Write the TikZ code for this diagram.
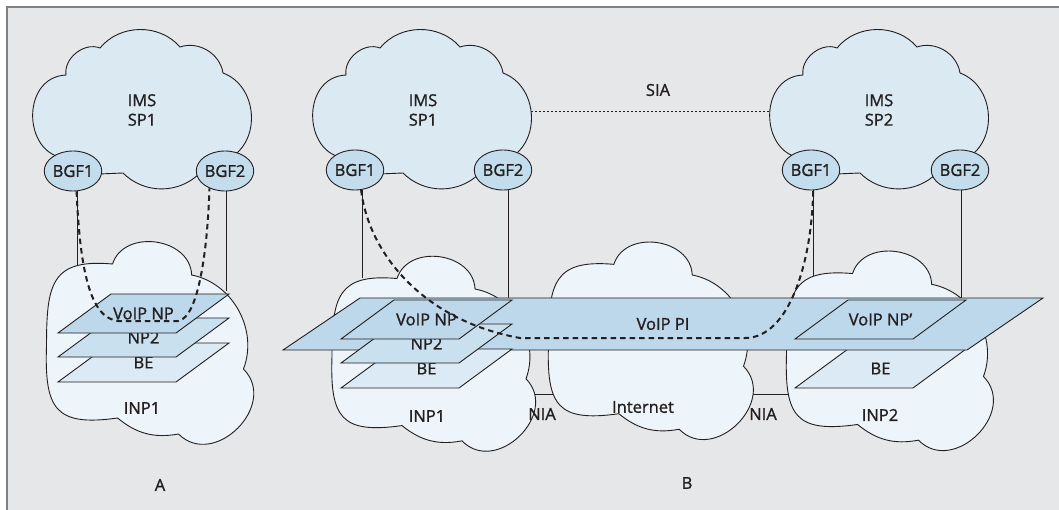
\documentclass[tikz,border=0pt]{standalone}
\usepackage{fontspec}
\setmainfont{Open Sans}[FakeBold=1.2]
\usetikzlibrary{shapes.geometric}
\definecolor{bgc}{RGB}{230,231,232}
\definecolor{framec}{RGB}{128,128,128}
\definecolor{imsc}{RGB}{219,233,243}
\definecolor{inpc}{RGB}{237,244,250}
\definecolor{bgfc}{RGB}{196,221,237}
\definecolor{voipc}{RGB}{188,216,234}
\definecolor{npc}{RGB}{201,224,239}
\definecolor{bec}{RGB}{219,234,244}
\definecolor{linec}{RGB}{35,31,32}
\tikzset{
  outl/.style={draw=linec, line width=0.9pt},
  imsshape/.style={outl, fill=imsc},
  inpshape/.style={outl, fill=inpc},
  bgf/.style={ellipse, outl, fill=bgfc, minimum width=51pt, minimum height=40pt, inner sep=0pt, text=linec, font=\fontsize{16.5}{19.5}\selectfont},
  lbl/.style={text=linec, font=\fontsize{16.5}{19.5}\selectfont, inner sep=0pt, align=center},
  conn/.style={draw=linec, line width=0.8pt},
  sess/.style={draw=linec, line width=2pt, dash pattern=on 5.5pt off 4pt},
  sialine/.style={draw=linec, line width=0.8pt, dash pattern=on 2pt off 2pt}
}
\newcommand{\IMScloud}[1]{\begin{scope}[shift={#1}]
  \path[imsshape] (-72,48) to[bend left=90,looseness=1.45] (-76,-35) to[bend left=60] (-42,-62)
    to[bend left=50] (38,-63) to[bend left=50] (81,-37) to[bend left=65,looseness=1.1] (88,48)
    -- (58,63) to[bend left=45] (-19,63) -- (-43,64) -- cycle;
\end{scope}}
\newcommand{\INPcloud}[3]{\begin{scope}[shift={#1},x=#2pt,y=-#3pt]
  \path[inpshape] (-0.98,0.03) to[out=90,in=175,looseness=1.5] (-0.33,-0.78)
    to[bend left=80,looseness=1.2] (0.45,-0.67) to[bend left=50] (0.96,0.27)
    to[bend left=90,looseness=1.4] (0.32,0.92) to[bend left=25] (-0.28,0.76)
    to[out=188,in=-92,looseness=1.6] (-0.98,0.03) -- cycle;
\end{scope}}
\newcommand{\plane}[5]{%
  \path[outl, fill=#3] (#1,#2) -- ++(118,0) -- ++(53,-39) -- ++(-118,0) -- cycle;
  \node[lbl] (#4) at ({#1+85.5},{#2-19.5}) {#5};}
\begin{document}
\begin{tikzpicture}[x=1pt,y=-1pt]
\useasboundingbox (0,0) rectangle (1059,510);
\fill[bgc] (7,7) rectangle (1059,510);
\draw[framec, line width=1.6pt] (7,510) -- (7,7) -- (1059,7);

% SIA
\coordinate (siaL) at (515,111);
\coordinate (siaR) at (790,111);
\draw[sialine] (siaL) -- (siaR);
\node[lbl] (sia) at (658,90) {SIA};

% IMS clouds
\IMScloud{(142,110)}
\IMScloud{(422,110)}
\IMScloud{(879,110)}
\node[lbl] (imsA) at (142,110) {IMS\\SP1};
\node[lbl] (imsB) at (423,110) {IMS\\SP1};
\node[lbl] (imsC) at (879,110) {IMS\\SP2};

\node[bgf] (bgfA1) at (73,171) {BGF1};
\node[bgf] (bgfA2) at (225,171) {BGF2};
\node[bgf] (bgfB1) at (355,170) {BGF1};
\node[bgf] (bgfB2) at (503,170) {BGF2};
\node[bgf] (bgfC1) at (811,170) {BGF1};
\node[bgf] (bgfC2) at (960,170) {BGF2};

% vertical links
\coordinate (vA1) at (77,270);
\coordinate (vA2) at (226,291);
\coordinate (vB1) at (362,278);
\coordinate (vB2) at (508,299);
\coordinate (vC1) at (813,279);
\coordinate (vC2) at (961,299);
\draw[conn] (bgfA1.south -| vA1) -- (vA1);
\draw[conn] (bgfA2.south -| vA2) -- (vA2);
\draw[conn] (bgfB1.south -| vB1) -- (vB1);
\draw[conn] (bgfB2.south -| vB2) -- (vB2);
\draw[conn] (bgfC1.south -| vC1) -- (vC1);
\draw[conn] (bgfC2.south -| vC2) -- (vC2);

% NIA links
\coordinate (n1a) at (515,394);
\coordinate (n1b) at (562,394);
\coordinate (n2a) at (732,394);
\coordinate (n2b) at (800,394);
\draw[conn] (n1a) -- (n1b);
\draw[conn] (n2a) -- (n2b);

% INP clouds
\INPcloud{(146,342)}{101.5}{100}
\INPcloud{(430,353)}{100}{95.5}
\INPcloud{(647,340)}{100.5}{97}
\INPcloud{(886,350)}{101.5}{98}
\node[lbl] (inpA) at (142,408) {INP1};
\node[lbl] (inpB) at (427,416) {INP1};
\node[lbl] (inet) at (643,407) {Internet};
\node[lbl] (inpC) at (880,415) {INP2};
\node[lbl] (nia1) at (542,414) {NIA};
\node[lbl] (nia2) at (763,414) {NIA};

% A stack
\plane{58}{382}{bec}{beA}{BE}
\plane{58}{357}{npc}{npA}{NP2}
\plane{58}{333}{voipc}{voipA}{VoIP NP}

% INP2 BE under PI
\plane{795}{388}{bec}{beC}{BE}
% PI
\path[outl, fill=voipc] (283,350) -- (967,350) -- (1043,298) -- (360,298) -- cycle;
\node[lbl] (pi) at (663,324) {VoIP PI};
% B stack
\plane{341}{388}{bec}{beB}{BE}
\plane{341}{363}{npc}{npB}{NP2}
\plane{341}{339}{voipc}{voipB}{VoIP NP}
\plane{795}{339}{voipc}{voipC}{VoIP NP’}

% sessions
\draw[sess] (bgfA1.-80) .. controls (80,270) and (90,318) .. (118,321) -- (178,321)
  .. controls (200,318) and (208,240) .. (bgfA2.-132);
\draw[sess] (bgfB1.-73) .. controls (368,250) and (420,320) .. (520,338) -- (745,338)
  .. controls (790,338) and (812,260) .. (bgfC1.-84);

\node[lbl] (labA) at (160,485) {A};
\node[lbl] (labB) at (687,483) {B};
\end{tikzpicture}
\end{document}
